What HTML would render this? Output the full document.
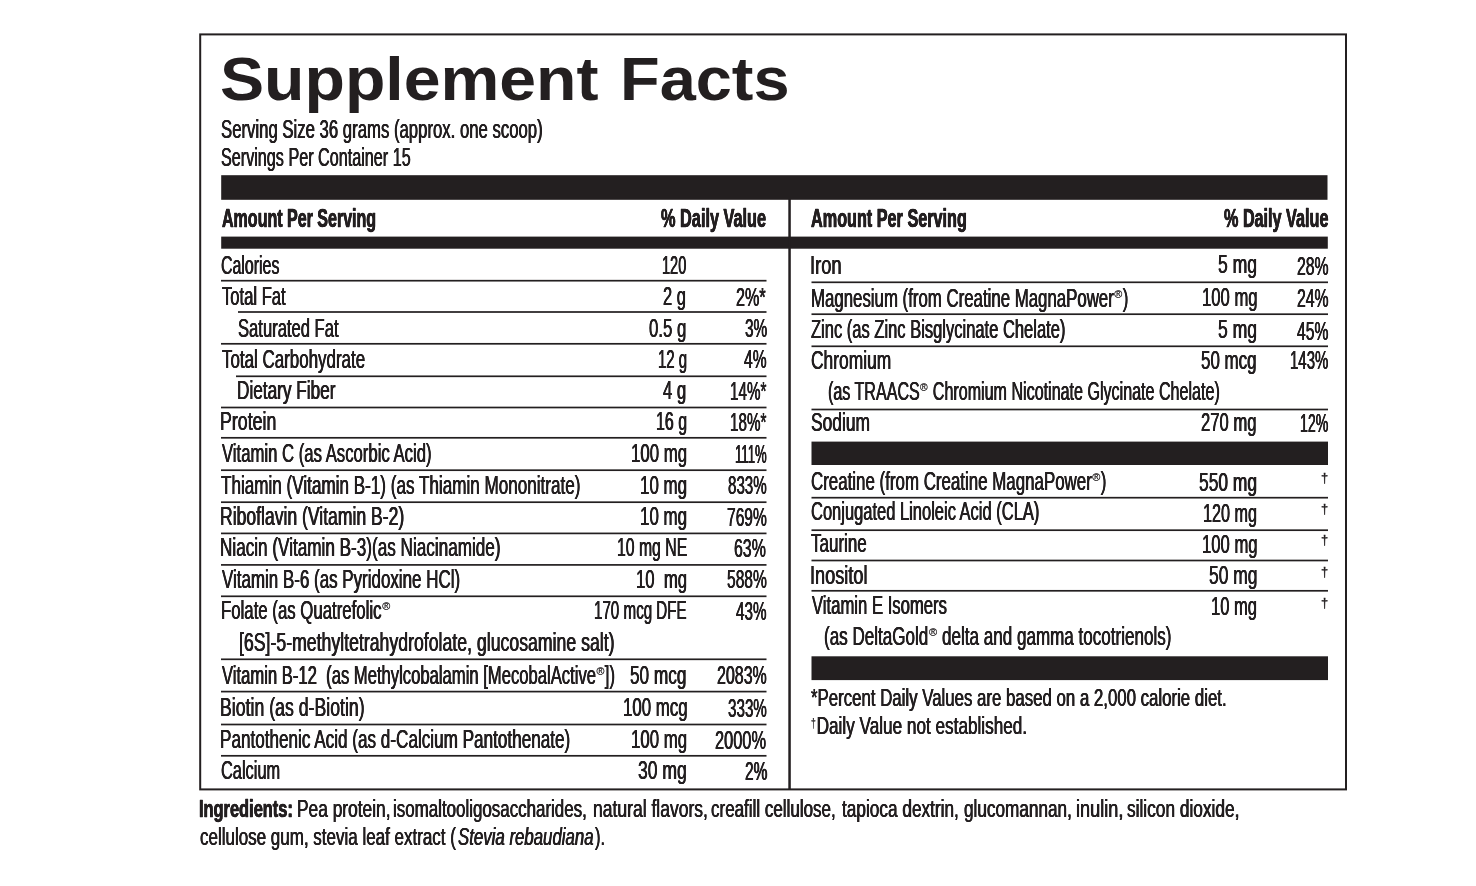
<!DOCTYPE html><html lang="en"><head><meta charset="utf-8"><title>Supplement Facts</title><style>

html,body{margin:0;padding:0;background:#fff;overflow:hidden}
#pg{position:relative;width:1476px;height:886px;background:#fff;overflow:hidden;font-family:"Liberation Sans",sans-serif;color:#231f20}
.x{position:absolute;white-space:pre;transform-origin:0 0;line-height:1;display:block}
.r{font-size:25px;-webkit-text-stroke:.08px #231f20;text-shadow:.42px 0 0 #231f20,-.42px 0 0 #231f20}
.b{font-size:26px;font-weight:bold;-webkit-text-stroke:.5px #231f20;text-shadow:.4px 0 0 #231f20,-.4px 0 0 #231f20}
.t{font-size:62px;font-weight:bold}
.f{font-size:24.6px;-webkit-text-stroke:.08px #231f20;text-shadow:.42px 0 0 #231f20,-.42px 0 0 #231f20}
.i{font-size:24.6px;-webkit-text-stroke:.08px #231f20;text-shadow:.42px 0 0 #231f20,-.42px 0 0 #231f20}
.ib{font-size:24.6px;font-weight:bold;-webkit-text-stroke:.5px #231f20;text-shadow:.4px 0 0 #231f20,-.4px 0 0 #231f20}
.ii{font-size:24.6px;font-style:italic;-webkit-text-stroke:.08px #231f20;text-shadow:.42px 0 0 #231f20,-.42px 0 0 #231f20}
.dag{font-size:12.5px;-webkit-text-stroke:.35px #231f20}
.x sup{display:inline-block;font-size:.46em;line-height:0;vertical-align:baseline;position:relative;top:-.82em;margin:0 .36em 0 .06em;transform:scaleX(1.4);transform-origin:left center;-webkit-text-stroke:.25px #231f20;text-shadow:none}
.x sup.d{font-size:.5em;top:-.6em;margin:0 .1em 0 0;transform:none}
.k{position:absolute;background:#231f20}
#bx{position:absolute;box-sizing:border-box;border:solid #231f20}

</style></head><body>
<div id="pg">
<svg id="rules" width="1476" height="886" viewBox="0 0 1476 886" style="position:absolute;left:0;top:0" fill="#231f20">
<rect x="200.20" y="34.40" width="1145.80" height="755.00" fill="none" stroke="#231f20" stroke-width="2.00"/>
<rect x="221.20" y="175.20" width="1106.30" height="24.60"/>
<rect x="221.20" y="236.60" width="1106.60" height="12.10"/>
<rect x="811.50" y="441.60" width="516.50" height="23.40"/>
<rect x="811.50" y="656.30" width="516.50" height="23.80"/>
<rect x="788.30" y="199.00" width="2.50" height="591.00"/>
<rect x="221.00" y="279.85" width="545.50" height="1.70"/>
<rect x="238.00" y="311.15" width="528.50" height="1.70"/>
<rect x="221.00" y="342.95" width="545.50" height="1.70"/>
<rect x="236.00" y="375.45" width="530.50" height="1.70"/>
<rect x="221.00" y="406.65" width="545.50" height="1.70"/>
<rect x="221.00" y="436.95" width="545.50" height="1.70"/>
<rect x="221.00" y="469.35" width="545.50" height="1.70"/>
<rect x="221.00" y="501.35" width="545.50" height="1.70"/>
<rect x="221.00" y="532.55" width="545.50" height="1.70"/>
<rect x="221.00" y="564.05" width="545.50" height="1.70"/>
<rect x="221.00" y="595.45" width="545.50" height="1.70"/>
<rect x="221.00" y="658.45" width="545.50" height="1.70"/>
<rect x="221.00" y="690.75" width="545.50" height="1.70"/>
<rect x="221.00" y="723.65" width="545.50" height="1.70"/>
<rect x="221.00" y="754.95" width="545.50" height="1.70"/>
<rect x="811.50" y="281.45" width="516.50" height="1.70"/>
<rect x="811.50" y="313.35" width="516.50" height="1.70"/>
<rect x="811.50" y="345.45" width="516.50" height="1.70"/>
<rect x="811.50" y="408.65" width="516.50" height="1.70"/>
<rect x="811.50" y="496.85" width="516.50" height="1.70"/>
<rect x="811.50" y="529.35" width="516.50" height="1.70"/>
<rect x="811.50" y="559.65" width="516.50" height="1.70"/>
<rect x="811.50" y="589.95" width="516.50" height="1.70"/>
</svg>
<div class="x t" id="t1" style="left:219.76px;top:48px;transform:scaleX(1.0669)">Supplement</div>
<div class="x t" id="t2" style="left:619.78px;top:48px;transform:scaleX(1.0465)">Facts</div>
<div class="x r" id="s1" style="left:220.61px;top:117px;transform:scaleX(0.6691)">Serving Size 36 grams (approx. one scoop)</div>
<div class="x r" id="s2" style="left:220.61px;top:145px;transform:scaleX(0.6469)">Servings Per Container 15</div>
<div class="x b" id="h1" style="left:221.88px;top:205px;transform:scaleX(0.6167)">Amount Per Serving</div>
<div class="x b" id="h2" style="left:661.48px;top:205px;transform:scaleX(0.6272)">% Daily Value</div>
<div class="x b" id="h3" style="left:810.88px;top:205px;transform:scaleX(0.6237)">Amount Per Serving</div>
<div class="x b" id="h4" style="left:1223.98px;top:205px;transform:scaleX(0.6228)">% Daily Value</div>
<div class="x r" id="l0" style="left:220.84px;top:253px;transform:scaleX(0.6364)">Calories</div>
<div class="x r" id="la0" style="left:661.64px;top:253px;transform:scaleX(0.5828)">120</div>
<div class="x r" id="l1" style="left:221.51px;top:284px;transform:scaleX(0.6639)">Total Fat</div>
<div class="x r" id="la1" style="left:663.39px;top:284px;transform:scaleX(0.6592)">2 g</div>
<div class="x r" id="ld1" style="left:736.47px;top:285px;transform:scaleX(0.6468)">2%*</div>
<div class="x r" id="l2" style="left:237.64px;top:316px;transform:scaleX(0.6637)">Saturated Fat</div>
<div class="x r" id="la2" style="left:648.61px;top:316px;transform:scaleX(0.6720)">0.5 g</div>
<div class="x r" id="ld2" style="left:744.84px;top:316px;transform:scaleX(0.6171)">3%</div>
<div class="x r" id="l3" style="left:221.50px;top:347px;transform:scaleX(0.6776)">Total Carbohydrate</div>
<div class="x r" id="la3" style="left:657.61px;top:347px;transform:scaleX(0.5995)">12 g</div>
<div class="x r" id="ld3" style="left:744.00px;top:347px;transform:scaleX(0.6242)">4%</div>
<div class="x r" id="l4" style="left:236.97px;top:378px;transform:scaleX(0.6880)">Dietary Fiber</div>
<div class="x r" id="la4" style="left:663.49px;top:378px;transform:scaleX(0.6660)">4 g</div>
<div class="x r" id="ld4" style="left:730.14px;top:379px;transform:scaleX(0.6074)">14%*</div>
<div class="x r" id="l5" style="left:220.37px;top:409px;transform:scaleX(0.7114)">Protein</div>
<div class="x r" id="la5" style="left:655.61px;top:409px;transform:scaleX(0.6374)">16 g</div>
<div class="x r" id="ld5" style="left:730.14px;top:410px;transform:scaleX(0.6074)">18%*</div>
<div class="x r" id="l6" style="left:221.61px;top:441px;transform:scaleX(0.6683)">Vitamin C (as Ascorbic Acid)</div>
<div class="x r" id="la6" style="left:630.59px;top:441px;transform:scaleX(0.6726)">100 mg</div>
<div class="x r" id="ld6" style="left:735.11px;top:442px;transform:scaleX(0.5258)">111%</div>
<div class="x r" id="l7" style="left:221.49px;top:473px;transform:scaleX(0.6839)">Thiamin (Vitamin B-1) (as Thiamin Mononitrate)</div>
<div class="x r" id="la7" style="left:639.59px;top:473px;transform:scaleX(0.6769)">10 mg</div>
<div class="x r" id="ld7" style="left:728.05px;top:473px;transform:scaleX(0.6064)">833%</div>
<div class="x r" id="l8" style="left:220.40px;top:504px;transform:scaleX(0.7028)">Riboflavin (Vitamin B-2)</div>
<div class="x r" id="la8" style="left:639.59px;top:504px;transform:scaleX(0.6769)">10 mg</div>
<div class="x r" id="ld8" style="left:726.51px;top:505px;transform:scaleX(0.6225)">769%</div>
<div class="x r" id="l9" style="left:220.46px;top:535px;transform:scaleX(0.6853)">Niacin (Vitamin B-3)(as Niacinamide)</div>
<div class="x r" id="la9" style="left:616.63px;top:535px;transform:scaleX(0.6315)">10 mg NE</div>
<div class="x r" id="ld9" style="left:734.37px;top:536px;transform:scaleX(0.6362)">63%</div>
<div class="x r" id="l10" style="left:221.61px;top:567px;transform:scaleX(0.6782)">Vitamin B-6 (as Pyridoxine HCl)</div>
<div class="x r" id="la10" style="left:635.59px;top:567px;transform:scaleX(0.6690)">10  mg</div>
<div class="x r" id="ld10" style="left:726.52px;top:567px;transform:scaleX(0.6228)">588%</div>
<div class="x r" id="l11" style="left:220.50px;top:598px;transform:scaleX(0.6716)">Folate (as Quatrefolic<sup>®</sup></div>
<div class="x r" id="la11" style="left:593.63px;top:598px;transform:scaleX(0.6065)">170 mcg DFE</div>
<div class="x r" id="ld11" style="left:736.01px;top:599px;transform:scaleX(0.6097)">43%</div>
<div class="x r" id="l12" style="left:238.63px;top:630px;transform:scaleX(0.7075)">[6S]-5-methyltetrahydrofolate, glucosamine salt)</div>
<div class="x r" id="l13" style="left:221.61px;top:663px;transform:scaleX(0.6651)">Vitamin B-12  (as Methylcobalamin [MecobalActive<sup>®</sup>])</div>
<div class="x r" id="la13" style="left:630.13px;top:663px;transform:scaleX(0.6881)">50 mcg</div>
<div class="x r" id="ld13" style="left:716.50px;top:663px;transform:scaleX(0.6395)">2083%</div>
<div class="x r" id="l14" style="left:220.37px;top:695px;transform:scaleX(0.7080)">Biotin (as d-Biotin)</div>
<div class="x r" id="la14" style="left:622.60px;top:695px;transform:scaleX(0.6742)">100 mcg</div>
<div class="x r" id="ld14" style="left:727.84px;top:696px;transform:scaleX(0.6082)">333%</div>
<div class="x r" id="l15" style="left:220.47px;top:727px;transform:scaleX(0.6848)">Pantothenic Acid (as d-Calcium Pantothenate)</div>
<div class="x r" id="la15" style="left:630.59px;top:727px;transform:scaleX(0.6726)">100 mg</div>
<div class="x r" id="ld15" style="left:715.44px;top:728px;transform:scaleX(0.6551)">2000%</div>
<div class="x r" id="l16" style="left:220.73px;top:758px;transform:scaleX(0.6551)">Calcium</div>
<div class="x r" id="la16" style="left:637.87px;top:758px;transform:scaleX(0.7012)">30 mg</div>
<div class="x r" id="ld16" style="left:744.69px;top:759px;transform:scaleX(0.6202)">2%</div>
<div class="x r" id="r0" style="left:809.56px;top:253px;transform:scaleX(0.7332)">Iron</div>
<div class="x r" id="ra0" style="left:1218.11px;top:252px;transform:scaleX(0.7030)">5 mg</div>
<div class="x r" id="rd0" style="left:1296.54px;top:254px;transform:scaleX(0.6331)">28%</div>
<div class="x r" id="r1" style="left:810.50px;top:286px;transform:scaleX(0.6726)">Magnesium (from Creatine MagnaPower<sup>®</sup>)</div>
<div class="x r" id="ra1" style="left:1201.60px;top:285px;transform:scaleX(0.6660)">100 mg</div>
<div class="x r" id="rd1" style="left:1296.54px;top:286px;transform:scaleX(0.6331)">24%</div>
<div class="x r" id="r2" style="left:811.20px;top:317px;transform:scaleX(0.6610)">Zinc (as Zinc Bisglycinate Chelate)</div>
<div class="x r" id="ra2" style="left:1218.11px;top:317px;transform:scaleX(0.7030)">5 mg</div>
<div class="x r" id="rd2" style="left:1297.00px;top:319px;transform:scaleX(0.6269)">45%</div>
<div class="x r" id="r3" style="left:810.62px;top:348px;transform:scaleX(0.6962)">Chromium</div>
<div class="x r" id="ra3" style="left:1200.72px;top:348px;transform:scaleX(0.6774)">50 mcg</div>
<div class="x r" id="rd3" style="left:1290.14px;top:348px;transform:scaleX(0.5985)">143%</div>
<div class="x r" id="r4" style="left:828.13px;top:379px;transform:scaleX(0.6434)">(as TRAACS<sup>®</sup> Chromium Nicotinate Glycinate Chelate)</div>
<div class="x r" id="r5" style="left:810.62px;top:410px;transform:scaleX(0.6969)">Sodium</div>
<div class="x r" id="ra5" style="left:1200.88px;top:410px;transform:scaleX(0.6654)">270 mg</div>
<div class="x r" id="rd5" style="left:1300.13px;top:411px;transform:scaleX(0.5668)">12%</div>
<div class="x r" id="r6" style="left:810.63px;top:469px;transform:scaleX(0.6759)">Creatine (from Creatine MagnaPower<sup>®</sup>)</div>
<div class="x r" id="ra6" style="left:1199.12px;top:470px;transform:scaleX(0.6959)">550 mg</div>
<div class="x dag" id="rd6" style="left:1321.49px;top:472px;transform:scaleX(1.0279)">†</div>
<div class="x r" id="r7" style="left:810.72px;top:499px;transform:scaleX(0.6599)">Conjugated Linoleic Acid (CLA)</div>
<div class="x r" id="ra7" style="left:1203.12px;top:501px;transform:scaleX(0.6488)">120 mg</div>
<div class="x dag" id="rd7" style="left:1321.49px;top:503px;transform:scaleX(1.0279)">†</div>
<div class="x r" id="r8" style="left:811.49px;top:531px;transform:scaleX(0.6803)">Taurine</div>
<div class="x r" id="ra8" style="left:1201.60px;top:532px;transform:scaleX(0.6660)">100 mg</div>
<div class="x dag" id="rd8" style="left:1321.49px;top:534px;transform:scaleX(1.0279)">†</div>
<div class="x r" id="r9" style="left:809.63px;top:563px;transform:scaleX(0.7258)">Inositol</div>
<div class="x r" id="ra9" style="left:1208.61px;top:563px;transform:scaleX(0.6977)">50 mg</div>
<div class="x dag" id="rd9" style="left:1321.49px;top:566px;transform:scaleX(1.0279)">†</div>
<div class="x r" id="r10" style="left:811.62px;top:593px;transform:scaleX(0.6668)">Vitamin E Isomers</div>
<div class="x r" id="ra10" style="left:1210.61px;top:594px;transform:scaleX(0.6618)">10 mg</div>
<div class="x dag" id="rd10" style="left:1321.49px;top:597px;transform:scaleX(1.0279)">†</div>
<div class="x r" id="r11" style="left:823.63px;top:624px;transform:scaleX(0.6820)">(as DeltaGold<sup>®</sup> delta and gamma tocotrienols)</div>
<div class="x f" id="f1" style="left:811.45px;top:686px;transform:scaleX(0.6837)">*Percent Daily Values are based on a 2,000 calorie diet.</div>
<div class="x f" id="f2" style="left:810.81px;top:714px;transform:scaleX(0.6977)"><sup class="d">†</sup>Daily Value not established.</div>
<div class="x ib" id="i1" style="left:199.11px;top:797px;transform:scaleX(0.6668)">Ingredients:</div>
<div class="x i" id="i2" style="left:297.43px;top:797px;transform:scaleX(0.7051)">Pea protein,</div>
<div class="x i" id="i3" style="left:393.11px;top:797px;transform:scaleX(0.6883)">isomaltooligosaccharides,</div>
<div class="x i" id="i4" style="left:592.62px;top:797px;transform:scaleX(0.7124)">natural flavors,</div>
<div class="x i" id="i5" style="left:711.29px;top:797px;transform:scaleX(0.6915)">creafill cellulose,</div>
<div class="x i" id="i6" style="left:841.61px;top:797px;transform:scaleX(0.7005)">tapioca dextrin,</div>
<div class="x i" id="i7" style="left:963.90px;top:797px;transform:scaleX(0.6983)">glucomannan,</div>
<div class="x i" id="i8" style="left:1075.59px;top:797px;transform:scaleX(0.7369)">inulin,</div>
<div class="x i" id="i9" style="left:1126.54px;top:797px;transform:scaleX(0.7030)">silicon dioxide,</div>
<div class="x i" id="j1" style="left:199.81px;top:825px;transform:scaleX(0.6908)">cellulose gum, stevia leaf extract (</div>
<div class="x ii" id="j2" style="left:457.58px;top:825px;transform:scaleX(0.6838)">Stevia rebaudiana</div>
<div class="x i" id="j3" style="left:594.53px;top:825px;transform:scaleX(0.6683)">).</div>
</div></body></html>
